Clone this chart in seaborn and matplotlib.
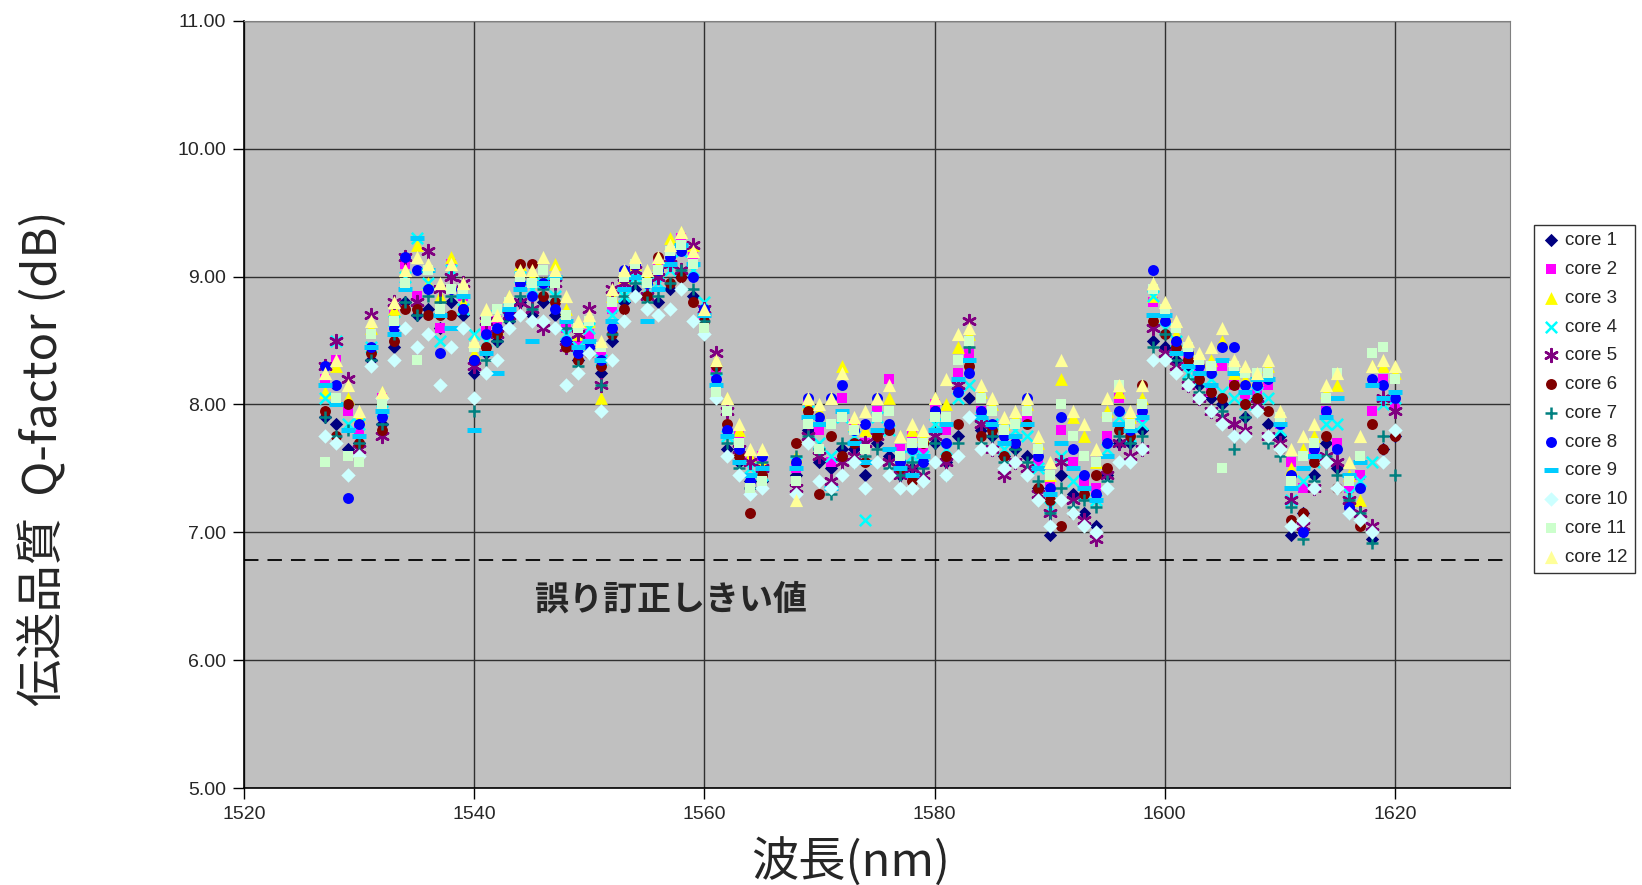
import numpy as np
import pandas as pd
import matplotlib
matplotlib.use('Agg')
import matplotlib.pyplot as plt
import seaborn as sns

# wavelength channels (nm)
wavelength = [1527, 1528, 1529, 1530, 1531, 1532, 1533, 1534, 1535, 1536,
              1537, 1538, 1539, 1540, 1541, 1542, 1543, 1544, 1545, 1546,
              1547, 1548, 1549, 1550, 1551, 1552, 1553, 1554, 1555, 1556,
              1557, 1558, 1559, 1560, 1561, 1562, 1563, 1564, 1565,
              1568, 1569, 1570, 1571, 1572, 1573, 1574, 1575, 1576, 1577, 1578,
              1579, 1580, 1581, 1582, 1583, 1584, 1585, 1586, 1587, 1588,
              1589, 1590, 1591, 1592, 1593, 1594, 1595, 1596, 1597, 1598,
              1599, 1600, 1601, 1602, 1603, 1604, 1605, 1606, 1607, 1608,
              1609, 1610, 1611, 1612, 1613, 1614, 1615, 1616, 1617, 1618,
              1619, 1620]

# Q-factor (dB) per core
core1 = [7.90, 7.85, 7.65, 7.70, 8.35, 7.85, 8.45, 8.80, 8.70, 8.75,
         8.60, 8.80, 8.70, 8.25, 8.40, 8.50, 8.65, 8.80, 8.70, 8.80,
         8.70, 8.50, 8.35, 8.45, 8.25, 8.50, 8.80, 8.90, 8.85, 8.80,
         8.90, 9.00, 8.85, 8.70, 8.30, 7.65, 7.55, 7.40, 7.40,
         7.45, 7.80, 7.55, 7.50, 7.65, 7.65, 7.45, 7.70, 7.60, 7.45, 7.50,
         7.55, 7.70, 7.55, 7.75, 8.05, 7.80, 7.75, 7.60, 7.65, 7.60,
         7.35, 6.98, 7.45, 7.30, 7.15, 7.05, 7.45, 7.70, 7.70, 7.80,
         8.50, 8.45, 8.35, 8.30, 8.15, 8.05, 8.00, 7.75, 7.90, 8.05,
         7.85, 7.75, 6.98, 7.15, 7.45, 7.70, 7.50, 7.15, 7.10, 6.95,
         7.65, 7.75]
core2 = [8.20, 8.35, 7.95, 7.80, 8.55, 8.05, 8.70, 9.10, 8.85, 9.05,
         8.60, 9.10, 8.85, 8.45, 8.60, 8.65, 8.80, 8.95, 8.95, 9.05,
         8.95, 8.60, 8.50, 8.55, 8.40, 8.75, 8.95, 9.05, 8.95, 9.10,
         9.20, 9.30, 9.15, 8.70, 8.25, 7.95, 7.75, 7.55, 7.60,
         7.50, 8.00, 7.80, 7.55, 8.05, 7.85, 7.70, 7.95, 8.20, 7.65, 7.75,
         7.65, 8.00, 7.80, 8.25, 8.40, 7.95, 7.95, 7.80, 7.85, 7.90,
         7.55, 7.40, 7.80, 7.55, 7.40, 7.35, 7.75, 8.05, 7.85, 7.90,
         8.80, 8.75, 8.45, 8.35, 8.25, 8.10, 8.30, 8.15, 8.05, 8.10,
         8.15, 7.85, 7.55, 7.35, 7.60, 7.95, 7.70, 7.35, 7.45, 7.95,
         8.20, 8.00]
core3 = [8.10, 8.30, 8.05, 7.90, 8.60, 8.10, 8.75, 9.05, 9.25, 8.95,
         8.85, 9.15, 8.80, 8.40, 8.70, 8.60, 8.85, 9.10, 9.00, 8.95,
         9.10, 8.75, 8.55, 8.65, 8.05, 8.85, 9.00, 9.10, 9.00, 9.10,
         9.30, 9.35, 9.25, 8.75, 8.35, 8.05, 7.80, 7.60, 7.55,
         7.60, 8.00, 7.95, 8.05, 8.30, 7.85, 7.80, 8.05, 8.05, 7.75, 7.80,
         7.75, 8.05, 8.00, 8.45, 8.55, 8.10, 8.00, 7.85, 7.90, 8.00,
         7.70, 7.45, 8.20, 7.90, 7.75, 7.55, 7.95, 8.10, 7.90, 8.05,
         8.85, 8.70, 8.55, 8.45, 8.35, 8.35, 8.50, 8.25, 8.20, 8.20,
         8.30, 7.90, 7.50, 7.65, 7.75, 8.10, 8.15, 7.45, 7.25, 8.30,
         8.30, 8.25]
core4 = [8.05, 8.50, 7.85, 7.85, 8.45, 7.95, 8.65, 9.00, 9.30, 8.95,
         8.50, 9.05, 8.75, 8.55, 8.50, 8.70, 8.75, 9.00, 8.90, 8.95,
         8.85, 8.55, 8.45, 8.60, 8.35, 8.70, 8.85, 9.00, 8.90, 8.95,
         9.05, 9.20, 9.05, 8.80, 8.20, 7.75, 7.60, 7.50, 7.45,
         7.55, 7.95, 7.70, 7.60, 7.90, 7.75, 7.10, 7.90, 7.80, 7.60, 7.60,
         7.60, 7.85, 7.65, 8.05, 8.15, 7.90, 7.85, 7.65, 7.80, 7.75,
         7.50, 7.20, 7.60, 7.40, 7.30, 7.25, 7.65, 7.90, 7.75, 7.85,
         8.85, 8.60, 8.50, 8.25, 8.20, 8.20, 8.10, 8.05, 8.00, 8.10,
         8.05, 7.80, 7.25, 7.40, 7.55, 7.85, 7.85, 7.30, 7.40, 7.55,
         8.00, 8.05]
core5 = [8.30, 8.50, 8.20, 7.65, 8.70, 7.75, 8.80, 9.15, 8.80, 9.20,
         8.90, 9.00, 8.95, 8.30, 8.65, 8.55, 8.70, 8.80, 8.75, 8.60,
         8.95, 8.45, 8.55, 8.75, 8.15, 8.90, 8.95, 9.05, 8.85, 9.00,
         9.10, 9.05, 9.25, 8.75, 8.40, 7.95, 7.65, 7.55, 7.50,
         7.35, 7.75, 7.60, 7.40, 7.55, 7.60, 7.70, 7.75, 7.55, 7.45, 7.50,
         7.45, 7.75, 7.55, 8.15, 8.65, 7.85, 7.65, 7.45, 7.55, 7.50,
         7.30, 7.15, 7.55, 7.25, 7.10, 6.95, 7.45, 7.70, 7.60, 7.65,
         8.60, 8.40, 8.30, 8.15, 8.05, 7.95, 7.90, 7.85, 7.80, 8.00,
         7.75, 7.70, 7.25, 7.05, 7.35, 7.60, 7.55, 7.25, 7.15, 7.05,
         8.05, 7.95]
core6 = [7.95, 7.75, 8.00, 7.70, 8.40, 7.80, 8.50, 8.75, 8.75, 8.70,
         8.70, 8.70, 8.75, 8.35, 8.45, 8.55, 8.70, 9.10, 9.10, 8.85,
         8.80, 8.45, 8.35, 8.40, 8.30, 8.55, 8.75, 9.10, 8.85, 9.15,
         8.95, 9.00, 8.80, 8.65, 8.30, 7.85, 7.60, 7.15, 7.45,
         7.70, 7.95, 7.30, 7.75, 7.60, 7.70, 7.55, 7.75, 7.80, 7.50, 7.40,
         7.70, 7.95, 7.60, 7.85, 8.30, 7.75, 7.80, 7.60, 7.70, 7.85,
         7.35, 7.25, 7.05, 7.15, 7.30, 7.45, 7.50, 7.80, 7.75, 8.15,
         8.65, 8.55, 8.45, 8.35, 8.20, 8.10, 8.05, 8.15, 8.00, 8.05,
         7.95, 7.65, 7.10, 7.15, 7.55, 7.75, 7.35, 7.20, 7.05, 7.85,
         7.65, 7.75]
core7 = [7.90, 7.75, 7.80, 7.70, 8.35, 7.85, 8.55, 8.80, 8.70, 8.85,
         8.80, 8.85, 8.85, 7.95, 8.35, 8.50, 8.65, 8.85, 8.75, 8.90,
         8.85, 8.60, 8.30, 8.40, 8.15, 8.55, 8.85, 8.95, 8.80, 8.85,
         8.95, 9.05, 8.90, 8.65, 8.25, 7.70, 7.50, 7.35, 7.55,
         7.60, 7.75, 7.65, 7.30, 7.70, 7.55, 7.60, 7.65, 7.50, 7.45, 7.55,
         7.50, 7.70, 7.45, 7.70, 8.45, 7.70, 7.75, 7.55, 7.65, 7.55,
         7.40, 7.15, 7.35, 7.20, 7.25, 7.20, 7.40, 7.75, 7.70, 7.75,
         8.45, 8.55, 8.35, 8.20, 8.10, 7.95, 7.95, 7.65, 7.90, 7.95,
         7.70, 7.60, 7.20, 6.95, 7.40, 7.60, 7.45, 7.25, 7.15, 6.92,
         7.75, 7.45]
core8 = [8.30, 8.15, 7.27, 7.85, 8.45, 7.90, 8.60, 9.15, 9.05, 8.90,
         8.40, 8.90, 8.75, 8.35, 8.55, 8.60, 8.70, 8.95, 8.85, 8.95,
         8.75, 8.50, 8.40, 8.45, 8.35, 8.60, 9.05, 9.10, 8.95, 9.05,
         9.15, 9.20, 9.00, 8.75, 8.20, 7.80, 7.65, 7.40, 7.60,
         7.55, 8.05, 7.90, 8.05, 8.15, 7.80, 7.85, 8.05, 7.85, 7.55, 7.65,
         7.55, 7.95, 7.70, 8.10, 8.25, 7.95, 7.85, 7.75, 7.70, 8.05,
         7.60, 7.35, 7.90, 7.65, 7.45, 7.30, 7.70, 7.95, 7.80, 7.95,
         9.05, 8.65, 8.50, 8.40, 8.30, 8.25, 8.45, 8.45, 8.15, 8.15,
         8.20, 7.85, 7.45, 7.00, 7.65, 7.95, 7.65, 7.20, 7.35, 8.20,
         8.15, 8.05]
core9 = [8.15, 8.00, 7.80, 7.75, 8.45, 7.95, 8.55, 8.90, 9.30, 9.05,
         8.70, 8.60, 8.85, 7.80, 8.40, 8.25, 8.75, 8.90, 8.50, 8.95,
         9.00, 8.65, 8.45, 8.50, 8.35, 8.65, 8.90, 9.00, 8.65, 8.90,
         9.10, 9.25, 9.10, 8.70, 8.15, 7.75, 7.55, 7.45, 7.50,
         7.50, 7.90, 7.85, 7.35, 7.95, 7.70, 7.55, 7.80, 7.65, 7.50, 7.45,
         7.60, 7.80, 7.85, 8.20, 8.35, 7.90, 7.85, 7.70, 7.75, 7.85,
         7.50, 7.30, 7.70, 7.50, 7.35, 7.25, 7.60, 7.85, 7.80, 7.90,
         8.70, 8.70, 8.40, 8.30, 8.25, 8.15, 8.35, 8.25, 8.10, 8.20,
         8.20, 7.85, 7.35, 7.50, 7.60, 7.90, 8.05, 7.45, 7.55, 8.15,
         8.05, 8.10]
core10 = [7.75, 7.70, 7.45, 7.60, 8.30, 8.05, 8.35, 8.60, 8.45, 8.55,
          8.15, 8.45, 8.60, 8.05, 8.25, 8.35, 8.60, 8.70, 8.65, 8.65,
          8.60, 8.15, 8.25, 8.40, 7.95, 8.35, 8.65, 8.85, 8.75, 8.70,
          8.75, 8.90, 8.65, 8.55, 8.05, 7.60, 7.45, 7.30, 7.35,
          7.30, 7.70, 7.40, 7.35, 7.45, 7.55, 7.35, 7.55, 7.45, 7.35, 7.35,
          7.40, 7.55, 7.45, 7.60, 7.90, 7.65, 7.65, 7.50, 7.55, 7.45,
          7.25, 7.05, 7.25, 7.15, 7.05, 7.00, 7.35, 7.55, 7.55, 7.65,
          8.35, 8.35, 8.25, 8.15, 8.05, 7.95, 7.85, 7.75, 7.75, 7.95,
          7.75, 7.65, 7.05, 7.10, 7.35, 7.55, 7.35, 7.15, 7.10, 7.00,
          7.55, 7.80]
core11 = [7.55, 8.05, 7.60, 7.55, 8.55, 8.00, 8.65, 8.95, 8.35, 9.05,
          8.75, 8.90, 8.90, 8.45, 8.65, 8.75, 8.80, 9.00, 8.95, 9.05,
          8.95, 8.70, 8.60, 8.65, 8.45, 8.80, 9.00, 9.10, 8.95, 9.05,
          9.20, 9.25, 9.10, 8.60, 8.10, 7.95, 7.70, 7.35, 7.40,
          7.40, 7.85, 7.65, 7.85, 7.90, 7.80, 7.65, 7.90, 7.95, 7.60, 7.70,
          7.70, 7.90, 7.90, 8.35, 8.50, 8.05, 7.95, 7.80, 7.85, 7.95,
          7.65, 7.45, 8.00, 7.75, 7.60, 7.55, 7.90, 8.15, 7.85, 8.00,
          8.90, 8.75, 8.60, 8.45, 8.35, 8.30, 7.50, 8.30, 8.25, 8.25,
          8.25, 7.90, 7.40, 7.60, 7.70, 8.05, 8.25, 7.40, 7.60, 8.40,
          8.45, 8.20]
core12 = [8.25, 8.35, 8.15, 7.95, 8.65, 8.10, 8.80, 9.05, 9.15, 9.10,
          8.95, 9.10, 8.95, 8.50, 8.75, 8.70, 8.85, 9.05, 9.05, 9.15,
          9.05, 8.85, 8.65, 8.70, 8.50, 8.90, 9.05, 9.15, 9.05, 9.15,
          9.25, 9.35, 9.20, 8.75, 8.35, 8.05, 7.85, 7.65, 7.65,
          7.25, 8.05, 8.00, 8.05, 8.25, 7.90, 7.95, 8.05, 8.15, 7.75, 7.85,
          7.80, 8.05, 8.20, 8.55, 8.60, 8.15, 8.05, 7.90, 7.95, 8.05,
          7.75, 7.55, 8.35, 7.95, 7.85, 7.65, 8.05, 8.15, 7.95, 8.15,
          8.95, 8.80, 8.65, 8.50, 8.40, 8.45, 8.60, 8.35, 8.30, 8.25,
          8.35, 7.95, 7.65, 7.75, 7.85, 8.15, 8.25, 7.55, 7.75, 8.30,
          8.35, 8.30]

core_names = ['core 1', 'core 2', 'core 3', 'core 4', 'core 5', 'core 6',
              'core 7', 'core 8', 'core 9', 'core 10', 'core 11', 'core 12']
core_values = [core1, core2, core3, core4, core5, core6,
               core7, core8, core9, core10, core11, core12]

threshold = 6.78

colors = ['#000080', '#FF00FF', '#FFFF00', '#00FFFF', '#800080', '#800000',
          '#008080', '#0000FF', '#00CCFF', '#CCFFFF', '#CCFFCC', '#FFFF99']
markers = ['D', 's', '^', 'x', (6, 2, 0), 'o', '+', 'o', '_', 'D', 's', '^']
sizes = [46, 56, 85, 66, 85, 62, 85, 62, 100, 54, 62, 90]

df = pd.DataFrame({
    'wavelength': np.tile(wavelength, len(core_names)),
    'q': np.concatenate(core_values),
    'core': np.repeat(core_names, len(wavelength)),
})

sns.set_style('white')
plt.rcParams['font.family'] = ['Noto Sans CJK JP', 'DejaVu Sans']

fig = plt.figure(figsize=(16.42, 8.85), dpi=100)
ax = fig.add_axes([0.1486, 0.1096, 0.771, 0.8667])
ax.set_facecolor('#C0C0C0')

for name, col, mk, sz in zip(core_names, colors, markers, sizes):
    sub = df[df['core'] == name]
    unfilled = mk in ('x', '+', '_') or isinstance(mk, tuple)
    if unfilled:
        sns.scatterplot(data=sub, x='wavelength', y='q', ax=ax, marker=mk,
                        color=col, s=sz, linewidth=1.8 if mk != '_' else 3.6,
                        label=name, zorder=3)
    else:
        sns.scatterplot(data=sub, x='wavelength', y='q', ax=ax, marker=mk,
                        color=col, s=sz, linewidth=0, label=name, zorder=3)

ax.axhline(threshold, color='black', linestyle=(0, (8, 5)), linewidth=1.3, zorder=2)
ax.text(1545.3, 6.48, '誤り訂正しきい値', fontsize=24.5, fontweight='bold',
        ha='left', va='center')

ax.set_xlim(1520, 1630)
ax.set_ylim(5, 11)
ax.set_xticks(np.arange(1520, 1621, 20))
ax.set_yticks(np.arange(5, 11.01, 1))
ax.set_yticklabels([f'{v:.2f}' for v in np.arange(5, 11.01, 1)])
ax.grid(True, color='#303030', linewidth=1.0, zorder=1)
ax.set_axisbelow(True)
ax.tick_params(axis='both', direction='out', length=8, width=1, labelsize=14,
               left=True, bottom=True, color='black', pad=5)
for t in ax.get_xticklabels() + ax.get_yticklabels():
    t.set_family(['Liberation Sans', 'DejaVu Sans'])
for sp in ['left', 'bottom']:
    ax.spines[sp].set_color('black')
    ax.spines[sp].set_linewidth(1.2)
for sp in ['top', 'right']:
    ax.spines[sp].set_color('#808080')
    ax.spines[sp].set_linewidth(0.8)

ax.set_xlabel('波長(nm)', fontsize=34)
ax.xaxis.set_label_coords(0.479, -0.066)
ax.set_ylabel('伝送品質  Q-factor (dB)', fontsize=34)
ax.yaxis.set_label_coords(-0.139, 0.43)

leg = ax.legend(loc='upper left', bbox_to_anchor=(0.934, 0.746),
                bbox_transform=fig.transFigure, frameon=True, fancybox=False,
                edgecolor='black', facecolor='white', fontsize=13.5,
                labelspacing=0.62, handletextpad=0.25, borderpad=0.4,
                handlelength=1.0, borderaxespad=0)
leg.get_frame().set_linewidth(1.0)
for t in leg.get_texts():
    t.set_family(['Liberation Sans', 'DejaVu Sans'])

fig.savefig('out.png', dpi=100)
